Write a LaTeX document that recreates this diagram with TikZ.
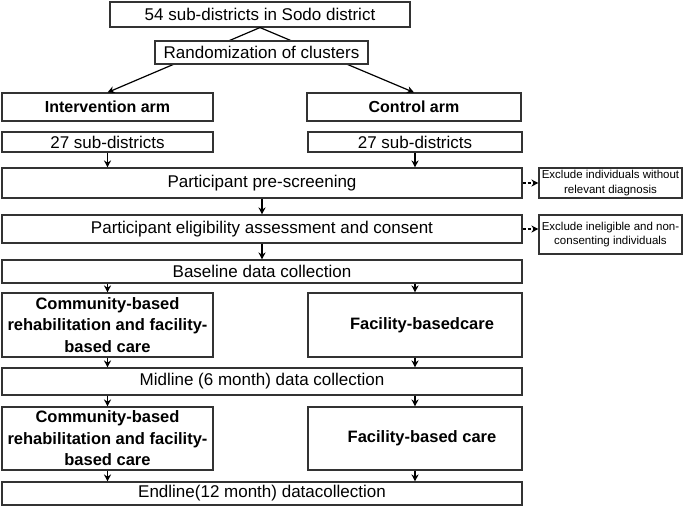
\documentclass[tikz,border=0pt]{standalone}
\usepackage{fontspec}
\setmainfont{Liberation Sans}
\usetikzlibrary{arrows.meta}
\tikzset{
  box/.style={draw=black!80, line width=1.1pt, fill=white, inner sep=0pt, align=center,
    font=\fontsize{17}{20.5}\selectfont},
  boldbox/.style={box, font=\fontsize{16.5}{21.5}\selectfont\bfseries},
  smallbox/.style={box, font=\fontsize{11.5}{14.5}\selectfont},
  arr/.style={draw=black, line width=1.2pt, -{Stealth[length=7pt,width=7pt]}},
  dasharr/.style={arr, dash pattern=on 3pt off 2pt},
}
\begin{document}
\begin{tikzpicture}[x=1pt,y=-1pt]
\useasboundingbox (0,0) rectangle (685,507);
% top
\node[box, minimum width=300pt, minimum height=25pt] (b1) at (260,14.5) {54 sub-districts in Sodo district};
\node[boldbox, font=\fontsize{16}{20}\selectfont\bfseries, minimum width=211pt, minimum height=28pt] (armI) at (107.5,107) {Intervention arm};
\node[boldbox, font=\fontsize{16}{20}\selectfont\bfseries, minimum width=214pt, minimum height=28pt] (armC) at (414,107) {Control arm};
\draw[arr] (b1.south) -- (armI.north);
\draw[arr] (b1.south) -- (armC.north);
\node[box, minimum width=213pt, minimum height=23pt] (b2) at (261.5,52.5) {Randomization of clusters};
% sub-districts
\node[box, minimum width=211pt, minimum height=20pt] (s1) at (107.5,142) {27 sub-districts};
\node[box, minimum width=214pt, minimum height=20pt] (s2) at (415,142) {27 sub-districts};
% screening
\node[box, minimum width=520pt, minimum height=30pt] (pre) at (262,183) {Participant pre-screening};
\node[smallbox, minimum width=143pt, minimum height=30pt] (ex1) at (610.5,183) {Exclude individuals without\\relevant diagnosis};
\node[box, minimum width=520pt, minimum height=28pt] (elig) at (262,229) {Participant eligibility assessment and consent};
\node[smallbox, minimum width=143pt, minimum height=39pt] (ex2) at (610.5,234.5) {Exclude ineligible and non-\\consenting individuals};
\node[box, minimum width=520pt, minimum height=23pt] (base) at (262,271.5) {Baseline data collection};
% first period
\node[boldbox, minimum width=211pt, minimum height=64pt] (com1) at (107.5,325) {Community-based\\rehabilitation and facility-\\based care};
\node[boldbox, minimum width=214pt, minimum height=64pt] (fac1) at (415,325) {\hspace*{14pt}Facility-basedcare};
\node[box, minimum width=520pt, minimum height=27pt] (mid) at (262,381.5) {Midline (6 month) data collection};
% second period
\node[boldbox, minimum width=211pt, minimum height=63pt] (com2) at (107.5,438.5) {Community-based\\rehabilitation and facility-\\based care};
\node[boldbox, minimum width=214pt, minimum height=63pt] (fac2) at (415,438.5) {\hspace*{14pt}Facility-based care};
\node[box, minimum width=520pt, minimum height=23pt] (end) at (262,493.5) {Endline(12 month) datacollection};
% connectors
\draw[arr] (s1.south) -- (s1.south |- pre.north);
\draw[arr] (s2.south) -- (s2.south |- pre.north);
\draw[arr] (pre.south) -- (elig.north);
\draw[arr] (elig.south) -- (base.north);
\draw[dasharr] (pre.east) -- (ex1.west);
\draw[dasharr] (elig.east) -- (elig.east -| ex2.west);
\draw[arr] (com1.north |- base.south) -- (com1.north);
\draw[arr] (fac1.north |- base.south) -- (fac1.north);
\draw[arr] (com1.south) -- (com1.south |- mid.north);
\draw[arr] (fac1.south) -- (fac1.south |- mid.north);
\draw[arr] (com2.north |- mid.south) -- (com2.north);
\draw[arr] (fac2.north |- mid.south) -- (fac2.north);
\draw[arr] (com2.south) -- (com2.south |- end.north);
\draw[arr] (fac2.south) -- (fac2.south |- end.north);
\end{tikzpicture}
\end{document}
